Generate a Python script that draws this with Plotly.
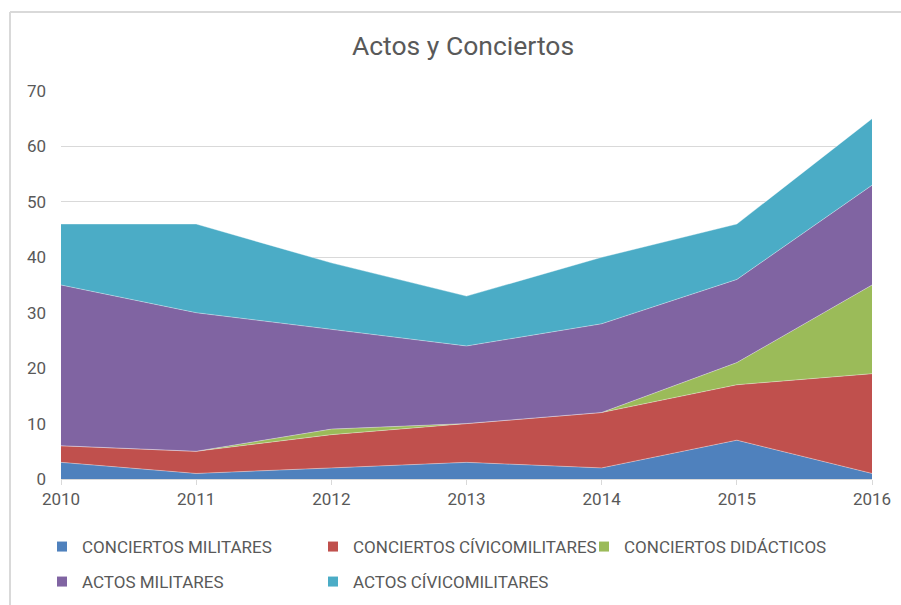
import plotly.graph_objects as go

years = [2010, 2011, 2012, 2013, 2014, 2015, 2016]
conciertos_militares = [3, 1, 2, 3, 2, 7, 1]
conciertos_civicomilitares = [3, 4, 6, 7, 10, 10, 18]
conciertos_didacticos = [0, 0, 1, 0, 0, 4, 16]
actos_militares = [29, 25, 18, 14, 16, 15, 18]
actos_civicomilitares = [11, 16, 12, 9, 12, 10, 12]

series = [
    ("CONCIERTOS MILITARES", conciertos_militares, "#4F81BD", "legend"),
    ("CONCIERTOS CÍVICOMILITARES", conciertos_civicomilitares, "#C0504D", "legend"),
    ("CONCIERTOS DIDÁCTICOS", conciertos_didacticos, "#9BBB59", "legend"),
    ("ACTOS MILITARES", actos_militares, "#8064A2", "legend2"),
    ("ACTOS CÍVICOMILITARES", actos_civicomilitares, "#4BACC6", "legend2"),
]

FONT = "Roboto, Liberation Sans, sans-serif"
GREY = "#595959"
W, H = 901, 605

fig = go.Figure()
for name, vals, color, lg in series:
    fig.add_trace(go.Scatter(
        x=years, y=vals, name=name, mode="lines", stackgroup="one",
        line=dict(width=0.6, color="rgba(255,255,255,0.6)"), fillcolor=color,
        showlegend=False, hoverinfo="x+y+name",
    ))
for name, vals, color, lg in series:
    fig.add_trace(go.Scatter(
        x=[None], y=[None], name=name, mode="markers",
        marker=dict(symbol="square", size=10, color=color),
        legend=lg, showlegend=True,
    ))

# plot-area pixel box
L, R, T, B = 61, 872, 91, 479
pw, ph = R - L, B - T
def px(x):
    return (x - L) / pw
def py(y):
    return (B - y) / ph

# chart-area border (left and top)
shapes = [
    dict(type="line", xref="paper", yref="paper", x0=px(10), x1=px(10), y0=py(12), y1=py(H),
         line=dict(color="#d9d9d9", width=2)),
    dict(type="line", xref="paper", yref="paper", x0=px(10), x1=px(W), y0=py(12), y1=py(12),
         line=dict(color="#d9d9d9", width=2)),
]

leg_common = dict(orientation="h", xanchor="left", yanchor="middle",
                  xref="container", yref="container",
                  entrywidth=226, entrywidthmode="pixels",
                  font=dict(size=17, color=GREY, family=FONT),
                  bgcolor="rgba(0,0,0,0)", itemwidth=30, traceorder="normal")

fig.update_layout(
    width=W, height=H,
    margin=dict(l=L, r=W - R, t=T, b=H - B, autoexpand=False),
    paper_bgcolor="white", plot_bgcolor="white",
    font=dict(family=FONT, color=GREY, size=17),
    title=dict(text="Actos y Conciertos", x=463 / W, xanchor="center",
               y=1 - 46 / H, yanchor="middle",
               font=dict(size=26.5, color=GREY, family=FONT)),
    xaxis=dict(range=[2010, 2016], tickvals=years, ticktext=[str(y) for y in years],
               showgrid=False, showline=True, linecolor="#d9d9d9", linewidth=1,
               ticks="outside", ticklen=5, tickcolor="#d9d9d9",
               tickfont=dict(size=17, color=GREY), zeroline=False, fixedrange=True,
               automargin=False),
    yaxis=dict(range=[0, 70], dtick=10, showgrid=True, gridcolor="#d9d9d9", gridwidth=1,
               showline=False, zeroline=False, ticks="", ticklabelstandoff=14,
               tickfont=dict(size=17, color=GREY), fixedrange=True, automargin=False),
    legend=dict(x=42 / W, y=1 - 547 / H, **leg_common),
    legend2=dict(x=42 / W, y=1 - 582 / H, **leg_common),
    shapes=shapes,
    showlegend=True,
)

fig.write_html(
    "out.html",
    config={"displayModeBar": False},
    post_script="document.body.style.margin='0';document.body.style.padding='0';"
                "document.body.style.overflow='hidden';",
)
